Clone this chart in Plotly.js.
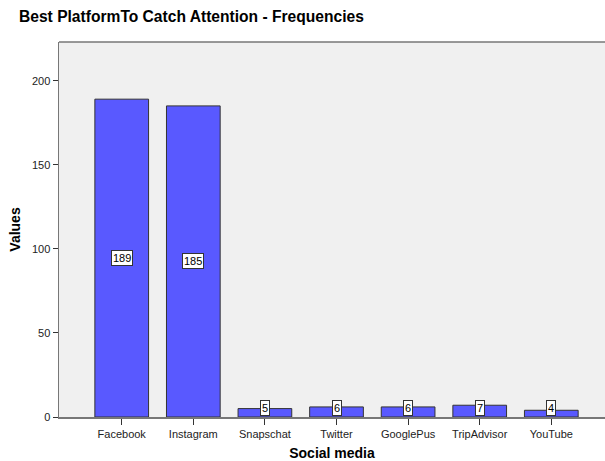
<!DOCTYPE html>
<html>
<head>
<meta charset="utf-8">
<script src="https://cdn.plot.ly/plotly-3.0.1.min.js"></script>
<style>html,body{margin:0;padding:0;background:#fff;}#chart{width:605px;height:461px;}</style>
</head>
<body>
<div id="chart"></div>
<script>
const categories = ["Facebook", "Instagram", "Snapschat", "Twitter", "GooglePus", "TripAdvisor", "YouTube"];
const values = [189, 185, 5, 6, 6, 7, 4];
const yTicks = [0, 50, 100, 150, 200];

const FONT = "Liberation Sans, Arial, sans-serif";

const annotations = categories.map((c, i) => {
  const v = values[i];
  const small = v < 20;
  return {
    x: c, y: small ? 0 : v / 2, xref: 'x', yref: 'y',
    text: String(v), showarrow: false,
    yanchor: small ? 'bottom' : 'middle',
    yshift: small ? 1 : 0,
    bgcolor: '#ffffff', bordercolor: '#333333', borderwidth: 1, borderpad: 1,
    font: {family: FONT, size: 11, color: '#000'}
  };
});

const trace = {
  type: 'bar', x: categories, y: values,
  marker: {color: '#5959ff', line: {color: '#333333', width: 1}},
  hoverinfo: 'none'
};

const layout = {
  width: 605, height: 461,
  margin: {l: 59, r: 0, t: 42, b: 44, pad: 0},
  paper_bgcolor: '#ffffff', plot_bgcolor: '#f0f0f0',
  bargap: 0.25,
  showlegend: false,
  title: {
    text: '<b>Best PlatformTo Catch Attention - Frequencies</b>',
    font: {family: FONT, size: 15.6, color: '#000'},
    x: 19 / 605, xanchor: 'left', xref: 'container',
    y: 1 - 17 / 461, yanchor: 'middle', yref: 'container'
  },
  xaxis: {
    type: 'category', range: [-0.876, 6.75],
    showline: true, linecolor: '#777777', linewidth: 1.5, mirror: false,
    ticks: 'outside', ticklen: 6, tickcolor: '#333333', tickwidth: 1,
    tickfont: {family: FONT, size: 11, color: '#222'},
    showgrid: false, zeroline: false, fixedrange: true,
    title: {text: '<b>Social media</b>', font: {family: FONT, size: 14, color: '#000'}, standoff: 9}
  },
  yaxis: {
    range: [0, 223], tickvals: yTicks,
    showline: true, linecolor: '#777777', linewidth: 1.5,
    ticks: 'outside', ticklen: 5, tickcolor: '#333333', tickwidth: 1,
    tickfont: {family: FONT, size: 11, color: '#222'},
    showgrid: false, zeroline: false, fixedrange: true,
    title: {text: '<b>Values</b>', font: {family: FONT, size: 14, color: '#000'}, standoff: 8}
  },
  shapes: [{type: 'line', xref: 'paper', yref: 'paper', x0: 0, x1: 1, y0: 1, y1: 1,
            line: {color: '#777777', width: 1.5}}],
  annotations: annotations
};

Plotly.newPlot('chart', [trace], layout, {staticPlot: true, displayModeBar: false});
</script>
</body>
</html>
